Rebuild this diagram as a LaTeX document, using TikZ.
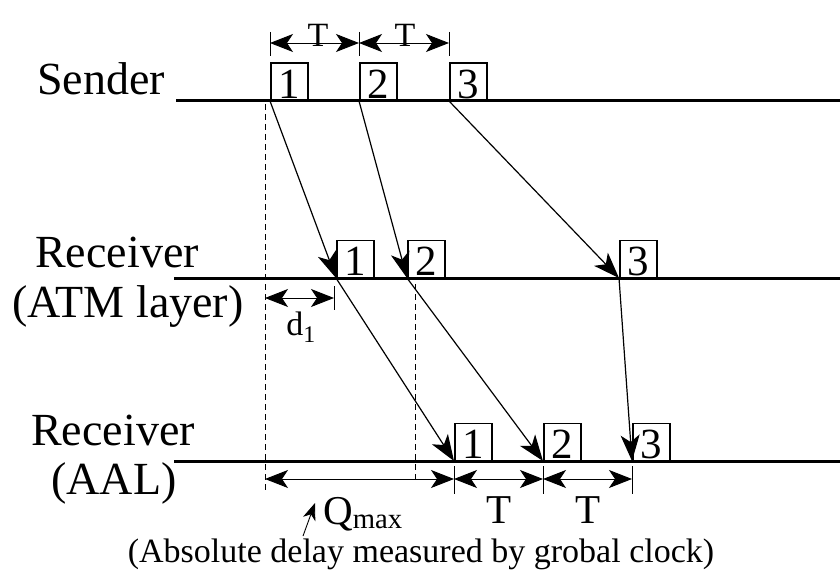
\documentclass[tikz,border=0pt]{standalone}
\usepackage{fontspec}
\setmainfont{Liberation Serif}
\usetikzlibrary{arrows.meta}
\begin{document}
\begin{tikzpicture}[x=1pt,y=-1pt,
  track/.style={line width=3pt},
  cell/.style={draw,line width=1.5pt,minimum width=37pt,minimum height=37pt,
    inner sep=0pt,anchor=south west,font=\fontsize{43}{43}\selectfont,
    text height=34pt,text depth=0pt},
  msg/.style={line width=1.2pt,-{Stealth[length=26pt,width=19pt,inset=7pt]}},
  dim/.style={line width=0.9pt,{Stealth[length=23pt,width=18pt,inset=6pt]}-{Stealth[length=23pt,width=18pt,inset=6pt]}},
  tick/.style={line width=0.9pt},
  guide/.style={line width=0.9pt,dash pattern=on 6pt off 4pt},
  lbl/.style={font=\fontsize{46}{50}\selectfont,anchor=base,inner sep=0pt},
  dimlbl/.style={font=\fontsize{34}{36}\selectfont,inner sep=0pt},
  biglbl/.style={font=\fontsize{41}{44}\selectfont,inner sep=0pt},
]
\useasboundingbox (0,0) rectangle (840,575);

% time axes
\coordinate (sL) at (176,101);  \coordinate (sR) at (840,101);
\coordinate (aL) at (174,278);  \coordinate (aR) at (840,278);
\coordinate (qL) at (174,461);  \coordinate (qR) at (840,461);
\draw[track] (sL) -- (sR);
\draw[track] (aL) -- (aR);
\draw[track] (qL) -- (qR);

% axis labels
\node[lbl] (lsend) at (101,95) {Sender};
\node[lbl] (latm1) at (117,267) {Receiver};
\node[lbl] (latm2) at (128,317) {(ATM layer)};
\node[lbl] (laal1) at (113,445) {Receiver};
\node[lbl] (laal2) at (114,494) {(AAL)};

% cells
\node[cell] (s1) at (270,101) {1};
\node[cell] (s2) at (359,101) {2};
\node[cell] (s3) at (449,101) {3};
\node[cell] (a1) at (336,278) {1};
\node[cell] (a2) at (407,278) {2};
\node[cell] (a3) at (619,278) {3};
\node[cell] (q1) at (454,461) {1};
\node[cell] (q2) at (543,461) {2};
\node[cell] (q3) at (632,461) {3};

% guide lines
\coordinate (g1t) at (265,104); \coordinate (g1b) at (265,492);
\coordinate (g2t) at (415,284); \coordinate (g2b) at (415,482);
\draw[guide] (g1t) -- (g1b);
\draw[guide] (g2t) -- (g2b);

% cell transfers
\draw[msg] (s1.south west) -- (a1.south west);
\draw[msg] (s2.south west) -- (a2.south west);
\draw[msg] (s3.south west) -- (a3.south west);
\draw[msg] (a1.south west) -- (q1.south west);
\draw[msg] (a2.south west) -- (q2.south west);
\draw[msg] (a3.south west) -- (q3.south west);

% sending interval
\coordinate (t1) at (270,43); \coordinate (t2) at (359,43); \coordinate (t3) at (449,43);
\draw[tick] (270,32) -- (270,56);
\draw[tick] (359,32) -- (359,56);
\draw[tick] (449,32) -- (449,56);
\draw[dim] (t1) -- (t2);
\draw[dim] (t2) -- (t3);
\node[dimlbl] (tl1) at (318,35) {T};
\node[dimlbl] (tl2) at (405,35) {T};

% network delay d1
\coordinate (d0) at (265,298); \coordinate (d1) at (334,298);
\draw[tick] (334,286) -- (334,310);
\draw[dim] (d0) -- (d1);
\node[dimlbl,anchor=base] (dl) at (301,335) {d\textsubscript{1}};

% playout
\coordinate (p0) at (265,479); \coordinate (p1) at (454,479);
\coordinate (p2) at (543,479); \coordinate (p3) at (632,479);
\draw[tick] (454,466) -- (454,494);
\draw[tick] (543,466) -- (543,494);
\draw[tick] (632,466) -- (632,494);
\draw[dim] (p0) -- (p1);
\draw[dim] (p1) -- (p2);
\draw[dim] (p2) -- (p3);
\node[biglbl,anchor=base] (tq1) at (499,523) {T};
\node[biglbl,anchor=base] (tq2) at (588,523) {T};
\node[biglbl,anchor=base west] (qm) at (323,524) {Q\textsubscript{max}};
\coordinate (qa) at (303,536);
\draw[line width=0.9pt,-{Stealth[length=17pt,width=13pt,inset=5pt]}] (qa) -- (315,503);
\node[font=\fontsize{34}{36}\selectfont,anchor=base,inner sep=0pt] (note) at (421,562)
  {(Absolute delay measured by grobal clock)};
\end{tikzpicture}
\end{document}
